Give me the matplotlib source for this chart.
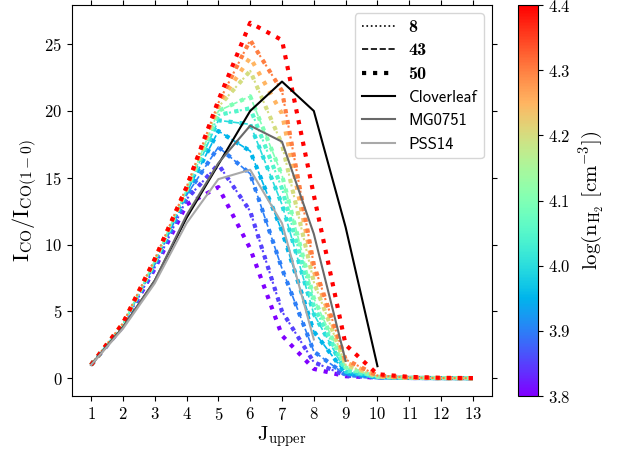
import matplotlib
matplotlib.use("Agg")
import matplotlib.pyplot as plt
from matplotlib.lines import Line2D
import numpy as np

plt.rcParams['font.family'] = 'serif'
plt.rcParams['font.serif'] = ['cmr10']
plt.rcParams['mathtext.fontset'] = 'cm'
plt.rcParams['axes.formatter.use_mathtext'] = True

# upper J level of each CO line
j_upper = [1, 2, 3, 4, 5, 6, 7, 8, 9, 10, 11, 12, 13]

# model SLEDs, one per log density
log_n = [3.8, 3.85, 3.9, 3.95, 4.0, 4.05, 4.1, 4.2, 4.25, 4.3, 4.4]
sled_380 = [1.0, 3.9, 8.2, 13.0, 14.3, 9.7, 3.2, 0.7, 0.15, 0.05, 0.02, 0.01, 0.0]
sled_385 = [1.0, 3.9, 8.3, 13.4, 16.0, 12.5, 5.0, 1.2, 0.2, 0.05, 0.02, 0.01, 0.0]
sled_390 = [1.0, 4.0, 8.5, 13.7, 17.3, 15.3, 8.2, 2.0, 0.25, 0.06, 0.02, 0.01, 0.0]
sled_395 = [1.0, 4.0, 8.6, 13.9, 18.5, 17.0, 11.0, 3.5, 0.35, 0.07, 0.02, 0.01, 0.0]
sled_400 = [1.0, 4.0, 8.7, 14.0, 19.3, 19.0, 13.0, 4.8, 0.5, 0.08, 0.02, 0.01, 0.0]
sled_405 = [1.0, 4.0, 8.7, 14.1, 19.7, 20.2, 14.2, 5.4, 0.6, 0.09, 0.03, 0.01, 0.0]
sled_410 = [1.0, 4.0, 8.8, 14.1, 20.0, 21.1, 15.2, 6.0, 0.8, 0.1, 0.03, 0.01, 0.0]
sled_420 = [1.0, 4.1, 8.8, 14.2, 20.3, 23.0, 17.5, 7.2, 1.0, 0.12, 0.03, 0.01, 0.0]
sled_425 = [1.0, 4.1, 8.9, 14.2, 20.5, 24.0, 19.8, 8.0, 1.2, 0.15, 0.04, 0.01, 0.0]
sled_430 = [1.0, 4.1, 8.9, 14.3, 20.6, 25.3, 21.5, 8.5, 1.4, 0.2, 0.05, 0.01, 0.0]
sled_440 = [1.0, 4.1, 8.9, 14.3, 20.8, 26.6, 25.3, 13.7, 2.5, 0.3, 0.1, 0.03, 0.01]
model_sleds = [sled_380, sled_385, sled_390, sled_395, sled_400, sled_405,
               sled_410, sled_420, sled_425, sled_430, sled_440]

# which densities also carry the thin dotted (8) and dashed (43) runs
dotted_n = [3.85, 4.05, 4.2, 4.3]
dashed_n = [3.9, 3.95, 4.0, 4.1]

# observed galaxies
j_clover = [1, 2, 3, 4, 5, 6, 7, 8, 9, 10]
clover = [1.0, 3.8, 7.3, 12.0, 16.0, 20.0, 22.2, 20.0, 11.3, 0.9]
j_mg = [1, 2, 3, 4, 5, 6, 7, 8, 9]
mg0751 = [1.0, 3.8, 7.3, 12.2, 16.1, 18.9, 17.7, 10.8, 1.3]
j_pss = [1, 2, 3, 4, 5, 6, 7, 8]
pss14 = [1.0, 3.7, 7.1, 11.6, 14.9, 15.6, 11.6, 2.9]

style_labels = ['8', '43', '50']

fig = plt.figure(figsize=(6.17, 4.51), dpi=100)
ax = fig.add_axes([72/617, 55/451, 420/617, 391/451])
cax = fig.add_axes([518/617, 55/451, 20/617, 391/451])

cmap = plt.get_cmap('rainbow')
norm = matplotlib.colors.Normalize(vmin=3.8, vmax=4.4)

for n, sled in zip(log_n, model_sleds):
    c = cmap(norm(n))
    if n in dotted_n:
        ax.plot(j_upper, sled, ':', color=c, lw=1.5)
    if n in dashed_n:
        ax.plot(j_upper, sled, '--', color=c, lw=1.2)
    ax.plot(j_upper, sled, ':', color=c, lw=3)

ax.plot(j_clover, clover, color='black', lw=1.5)
ax.plot(j_mg, mg0751, color='dimgray', lw=1.5)
ax.plot(j_pss, pss14, color='darkgray', lw=1.5)

handles = [Line2D([], [], color='k', ls=':', lw=1.2),
           Line2D([], [], color='k', ls='--', lw=1.2),
           Line2D([], [], color='k', ls=':', lw=3),
           Line2D([], [], color='black', lw=1.5),
           Line2D([], [], color='dimgray', lw=1.5),
           Line2D([], [], color='darkgray', lw=1.5)]
labels = style_labels + ['Cloverleaf', 'MG0751', 'PSS14']
leg = ax.legend(handles, labels, loc='upper right', fontsize=12)
for t in leg.get_texts()[:3]:
    t.set_fontfamily('cmb10')
    t.set_fontsize(13)
for t in leg.get_texts()[3:]:
    t.set_fontfamily('cmss10')

ax.set_xticks(j_upper)
ax.tick_params(labelsize=12, top=True, right=True)
ax.set_xlabel(r'$\mathrm{J_{upper}}$', fontsize=15, labelpad=1)
ax.set_ylabel(r'$\mathrm{I_{CO}/I_{CO(1-0)}}$', fontsize=16)

sm = matplotlib.cm.ScalarMappable(norm=norm, cmap=cmap)
cb = fig.colorbar(sm, cax=cax)
cb.set_ticks([3.8, 3.9, 4.0, 4.1, 4.2, 4.3, 4.4])
cb.ax.tick_params(labelsize=12)
cb.set_label(r'$\mathrm{\log(n_{H_2}\ [cm^{-3}])}$', fontsize=15)

fig.savefig('out.png', dpi=100)
